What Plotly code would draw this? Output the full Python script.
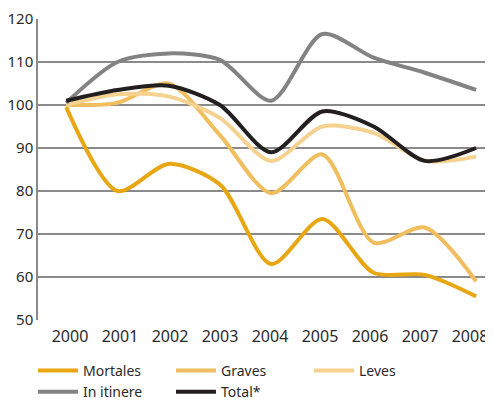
import plotly.graph_objects as go

# Índices (2000 = 100)
anios = [2000, 2001, 2002, 2003, 2004, 2005, 2006, 2007, 2008]
mortales = [99.5, 80, 86.3, 81.5, 63, 73.5, 61, 60.5, 55.5]
graves = [100, 100.5, 105, 93, 79.5, 88.5, 68, 71.5, 59]
leves = [100, 102.5, 102, 97, 87, 95, 93.5, 87, 88]
in_itinere = [100.5, 110, 112, 110.5, 101, 116.5, 111, 107.5, 103.5]
total = [101, 103.5, 104.5, 100, 89, 98.5, 95, 87, 90]

series = [
    ("Mortales", mortales, "#E8A612"),
    ("Graves", graves, "#F0BE5E"),
    ("Leves", leves, "#F5D28F"),
    ("In itinere", in_itinere, "#838383"),
    ("Total*", total, "#231F20"),
]

fig = go.Figure()
for nombre, valores, color in series:
    fig.add_trace(go.Scatter(
        x=anios, y=valores, name=nombre, mode="lines",
        line=dict(color=color, width=4, shape="spline", smoothing=0.8),
    ))

# eje auxiliar solo para las etiquetas de años
fig.add_trace(go.Scatter(
    x=anios, y=[None] * len(anios), xaxis="x2", showlegend=False,
    hoverinfo="skip", mode="lines",
))

# la página deja 8 px de margen al cuerpo: la figura se reduce en esa cantidad
fig.update_layout(
    width=485, height=393,
    margin=dict(l=30, r=0, t=11, b=81, autoexpand=False),
    paper_bgcolor="white", plot_bgcolor="white",
    font=dict(family="Noto Sans", color="#2a2a2a"),
    showlegend=True,
    legend=dict(
        orientation="h", x=0.0515, xref="container", xanchor="left",
        y=0.117, yref="container", yanchor="top",
        entrywidth=83, entrywidthmode="pixels",
        font=dict(size=14, color="#2a2a2a"),
        tracegroupgap=0, itemwidth=40,
    ),
    xaxis=dict(
        range=[1999.45, 2008.33], showgrid=False, showticklabels=False,
        zeroline=False, showline=False, ticks="",
    ),
    xaxis2=dict(
        range=[1999.36, 2008.46], tickvals=anios, overlaying="x",
        side="bottom", showgrid=False, zeroline=False, showline=False,
        ticks="", tickfont=dict(size=16), anchor="y", ticklabelstandoff=5,
    ),
    yaxis=dict(
        range=[50, 120], dtick=10, showgrid=True, gridcolor="#8a8a8a",
        gridwidth=1.5, zeroline=False, showline=True, linecolor="#8a8a8a",
        linewidth=1.5, ticks="", tickfont=dict(size=15),
    ),
)

fig.write_html("out.html")
